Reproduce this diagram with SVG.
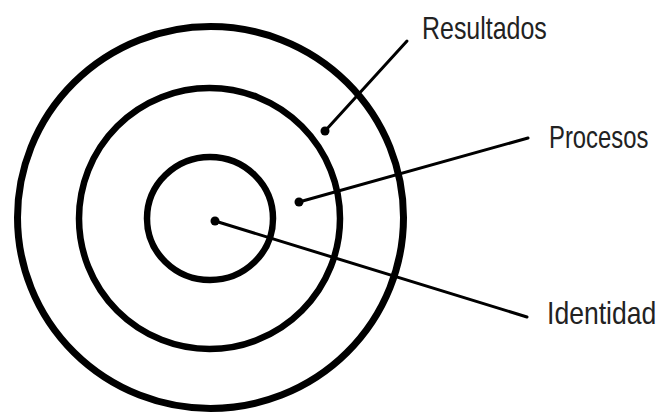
<svg xmlns="http://www.w3.org/2000/svg" width="662" height="412" viewBox="0 0 662 412">
<style>
.ring{fill:none;stroke:#000}
.lead{stroke:#000;stroke-width:3;fill:none;stroke-linecap:round}
.dot{fill:#000}
.lbl{font-family:"Liberation Sans",Arial,sans-serif;font-size:32px;fill:#222}
</style>
<rect width="662" height="412" fill="#fff"/>
<g id="outer"><ellipse class="ring" cx="210.5" cy="217.5" rx="193" ry="191" stroke-width="7"/></g>
<g id="middle"><ellipse class="ring" cx="209.5" cy="218.5" rx="130.5" ry="130.5" stroke-width="6.5"/></g>
<g id="inner"><ellipse class="ring" cx="210" cy="218.5" rx="63" ry="61.5" stroke-width="6.5"/></g>
<g id="connectors">
<line class="lead" x1="325" y1="131" x2="407" y2="41"/>
<line class="lead" x1="299" y1="202" x2="528" y2="138"/>
<line class="lead" x1="215" y1="221" x2="527" y2="317"/>
<circle class="dot" cx="325" cy="131" r="4.5"/>
<circle class="dot" cx="299" cy="202" r="4.5"/>
<circle class="dot" cx="215" cy="221" r="4.5"/>
</g>
<g id="label-resultados"><text class="lbl" transform="translate(422,39) scale(0.78,1)">Resultados</text></g>
<g id="label-procesos"><text class="lbl" transform="translate(549,148) scale(0.745,1)">Procesos</text></g>
<g id="label-identidad"><text class="lbl" transform="translate(547,324) scale(0.83,1)">Identidad</text></g>
</svg>
